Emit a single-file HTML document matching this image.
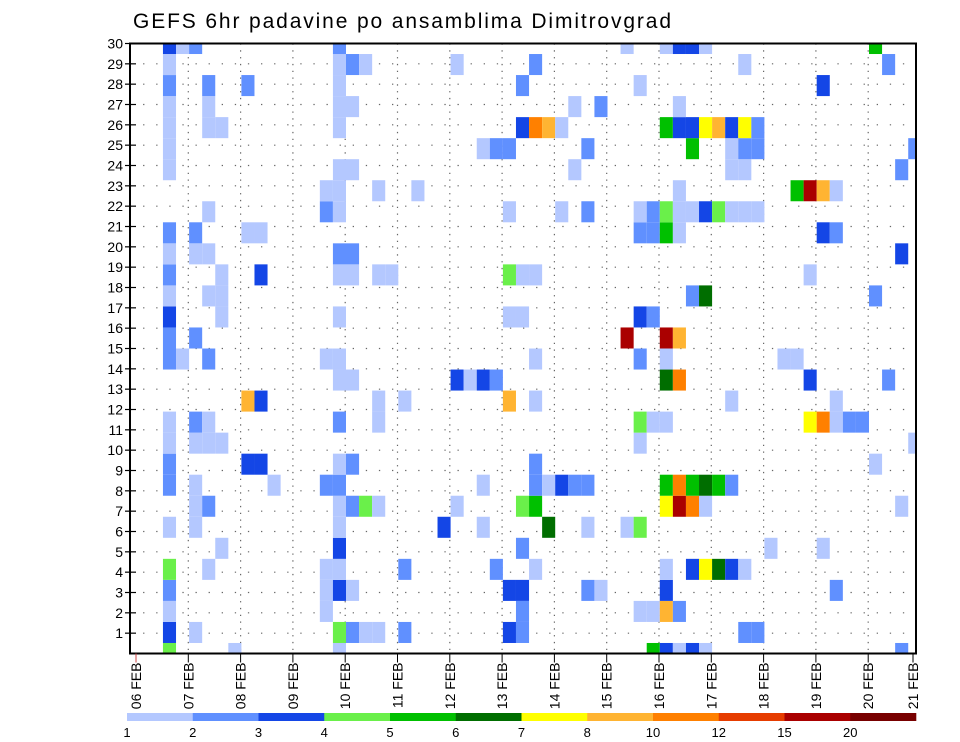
<!DOCTYPE html>
<html><head><meta charset="utf-8">
<style>
html,body{margin:0;padding:0;background:#fff;}
svg{display:block;font-family:"Liberation Sans",sans-serif;}
</style></head>
<body>
<svg id="chart" width="960" height="742" viewBox="0 0 960 742" xmlns="http://www.w3.org/2000/svg">
<rect x="0" y="0" width="960" height="742" fill="#fff"/>
<text x="133" y="28" font-size="21" textLength="538" lengthAdjust="spacing" fill="#000">GEFS 6hr padavine po ansamblima Dimitrovgrad</text>
<defs><clipPath id="plotclip"><rect x="130" y="43.5" width="786" height="610"/></clipPath></defs>
<g id="grid"></g>
<g id="cells" clip-path="url(#plotclip)"></g>
<rect x="130" y="43.5" width="786" height="610" fill="none" stroke="#000" stroke-width="2"/>
<g id="yaxis"></g>
<g id="xaxis"></g>
<g id="cbar"></g>
</svg>
<script>
// time step index (6-hourly, from 06 FEB 00Z)
const cellCol = [];
// ensemble row slot (0 = bottom)
const cellRow = [];
// precipitation (mm / 6h)
const cellVal = [];
const dayLabels = ["06 FEB","07 FEB","08 FEB","09 FEB","10 FEB","11 FEB","12 FEB","13 FEB","14 FEB","15 FEB","16 FEB","17 FEB","18 FEB","19 FEB","20 FEB","21 FEB"];
const yTicks = [1,2,3,4,5,6,7,8,9,10,11,12,13,14,15,16,17,18,19,20,21,22,23,24,25,26,27,28,29,30];
const levels = [1,2,3,4,5,6,7,8,10,12,15,20];
const levelColors = ["#b4c8ff","#6090ff","#1446e6","#6af04a","#00c000","#006e00","#ffff00","#ffb432","#ff8000","#e63c00","#aa0000","#780000"];
const classVal = [0,1.5,2.5,3.5,4.5,5.5,6.5,7.5,9,11,13.5,17,22];
const rawCells = {
29:[[2,3],[3,1],[4,2],[15,2],[37,1],[40,1],[41,3],[42,3],[43,1],[56,5]],
28:[[2,1],[15,1],[16,2],[17,1],[24,1],[30,2],[46,1],[57,2]],
27:[[2,2],[5,2],[8,2],[15,1],[29,2],[38,1],[52,3]],
26:[[2,1],[5,1],[15,1],[16,1],[33,1],[35,2],[41,1]],
25:[[2,1],[5,1],[6,1],[15,1],[29,3],[30,9],[31,8],[32,1],[40,5],[41,3],[42,3],[43,7],[44,8],[45,3],[46,7],[47,2]],
24:[[2,1],[26,1],[27,2],[28,2],[34,2],[42,5],[45,1],[46,2],[47,2],[59,2]],
23:[[2,1],[15,1],[16,1],[33,1],[45,1],[46,1],[58,2]],
22:[[14,1],[15,1],[18,1],[21,1],[41,1],[50,5],[51,11],[52,8],[53,1]],
21:[[5,1],[14,2],[15,1],[28,1],[32,1],[34,2],[38,1],[39,2],[40,4],[41,1],[42,1],[43,3],[44,4],[45,1],[46,1],[47,1]],
20:[[2,2],[4,2],[8,1],[9,1],[38,2],[39,2],[40,5],[41,1],[52,3],[53,2]],
19:[[2,1],[4,1],[5,1],[15,2],[16,2],[58,3]],
18:[[2,2],[6,1],[9,3],[15,1],[16,1],[18,1],[19,1],[28,4],[29,1],[30,1],[51,1]],
17:[[2,1],[5,1],[6,1],[42,2],[43,6],[56,2]],
16:[[2,3],[6,1],[15,1],[28,1],[29,1],[38,3],[39,2]],
15:[[2,2],[4,2],[37,11],[40,11],[41,8]],
14:[[2,2],[3,1],[5,2],[14,1],[15,1],[30,1],[38,2],[40,1],[49,1],[50,1]],
13:[[15,1],[16,1],[24,3],[25,1],[26,3],[27,2],[40,6],[41,9],[51,3],[57,2]],
12:[[8,8],[9,3],[18,1],[20,1],[28,8],[30,1],[45,1],[53,1]],
11:[[2,1],[4,2],[5,1],[15,2],[18,1],[38,4],[39,1],[40,1],[51,7],[52,9],[53,1],[54,2],[55,2]],
10:[[2,1],[4,1],[5,1],[6,1],[38,1],[59,1]],
9:[[2,2],[8,3],[9,3],[15,1],[16,2],[30,2],[56,1]],
8:[[2,2],[4,1],[10,1],[14,2],[15,2],[26,1],[30,2],[31,1],[32,3],[33,2],[34,2],[40,5],[41,9],[42,5],[43,6],[44,5],[45,2]],
7:[[4,1],[5,2],[15,1],[16,2],[17,4],[18,1],[24,1],[29,4],[30,5],[40,7],[41,11],[42,9],[43,1],[58,1]],
6:[[2,1],[4,1],[15,1],[23,3],[26,1],[31,6],[34,1],[37,1],[38,4]],
5:[[6,1],[15,3],[29,2],[48,1],[52,1]],
4:[[2,4],[5,1],[14,1],[15,1],[20,2],[27,2],[30,1],[40,1],[42,3],[43,7],[44,6],[45,3],[46,1]],
3:[[2,2],[14,1],[15,3],[16,1],[28,3],[29,3],[34,2],[35,1],[40,3],[53,2]],
2:[[2,1],[14,1],[29,2],[38,1],[39,1],[40,8],[41,2]],
1:[[2,3],[4,1],[15,4],[16,2],[17,1],[18,1],[20,2],[28,3],[29,2],[46,2],[47,2]],
0:[[2,4],[7,1],[15,1],[39,5],[40,3],[41,1],[42,3],[43,1],[58,2]]
};
for (const s in rawCells) for (const [k,c] of rawCells[s]) { cellCol.push(k); cellRow.push(+s); cellVal.push(classVal[c]); }

const NS="http://www.w3.org/2000/svg";
const PL=130, PR=916, PT=43.5, PB=653.5;
const dayW=52.3;
function xDay(d){ return 136 + d*dayW; }
function xStep(k){ return xDay(k/4) + 0.8; }
const stepW = dayW/4;
const slotH = (PB-PT)/29;
function ySlot(s){ return PB - s*slotH; }
function yTick(v){ return PB - v*(PB-PT)/30; }
function colorFor(v){ let i=-1; for(let j=0;j<levels.length;j++){ if(v>=levels[j]) i=j; } return i<0?null:levelColors[i]; }
function mk(tag, attrs, parent){ const e=document.createElementNS(NS,tag); for(const a in attrs) e.setAttribute(a, attrs[a]); parent.appendChild(e); return e; }

const grid=document.getElementById('grid');
for (const v of yTicks) {
  const l=mk('line',{x1:PL,x2:PR,y1:yTick(v),y2:yTick(v),stroke:'#666','stroke-width':1.2,'stroke-dasharray':'1.3,11.8'},grid);
  
  
}
for (let d=1; d<dayLabels.length-1; d++) {
  const l=mk('line',{x1:xDay(d),x2:xDay(d),y1:PT,y2:PB,stroke:'#666','stroke-width':1.2,'stroke-dasharray':'1.3,5.5'},grid);
  
  
}

const cells=document.getElementById('cells');
for (let i=0;i<cellVal.length;i++){
  const col=colorFor(cellVal[i]); if(!col) continue;
  const r=mk('rect',{x:xStep(cellCol[i]),y:ySlot(cellRow[i])-slotH/2,width:stepW,height:slotH,fill:col},cells);
  
  
}

const ya=document.getElementById('yaxis');
for (const v of yTicks){
  const y=yTick(v);
  const t=mk('line',{x1:125,x2:136,y1:y,y2:y,stroke:'#000','stroke-width':1.2},ya);
  
  
  const tx=mk('text',{x:123,y:y+5,'font-size':14,'text-anchor':'end',fill:'#000'},ya);
  tx.textContent=v;
  
  
}

const xa=document.getElementById('xaxis');
for (let d=0; d<dayLabels.length; d++){
  let x=xDay(d); if (x>PR-2) x=PR-3;
  const t=mk('line',{x1:x,x2:x,y1:PB,y2:PB+9,stroke:d===0?'#c44':'#000','stroke-width':1},xa);
  
  
  const tx=mk('text',{x:0,y:0,'font-size':14,'text-anchor':'end',fill:'#000',transform:'translate('+(x+5)+','+(PB+9)+') rotate(-90)'},xa);
  tx.textContent=dayLabels[d];
  
  
}

const cb=document.getElementById('cbar');
const cbL=127, cbR=916, segW=(cbR-cbL)/levels.length;
for (let i=0;i<levels.length;i++){
  const r=mk('rect',{x:cbL+i*segW,y:713,width:segW+0.3,height:8,fill:levelColors[i]},cb);
  
  
  const tx=mk('text',{x:cbL+i*segW,y:737,'font-size':13,'text-anchor':'middle',fill:'#000'},cb);
  tx.textContent=levels[i];
  
  
}
</script>
</body></html>
